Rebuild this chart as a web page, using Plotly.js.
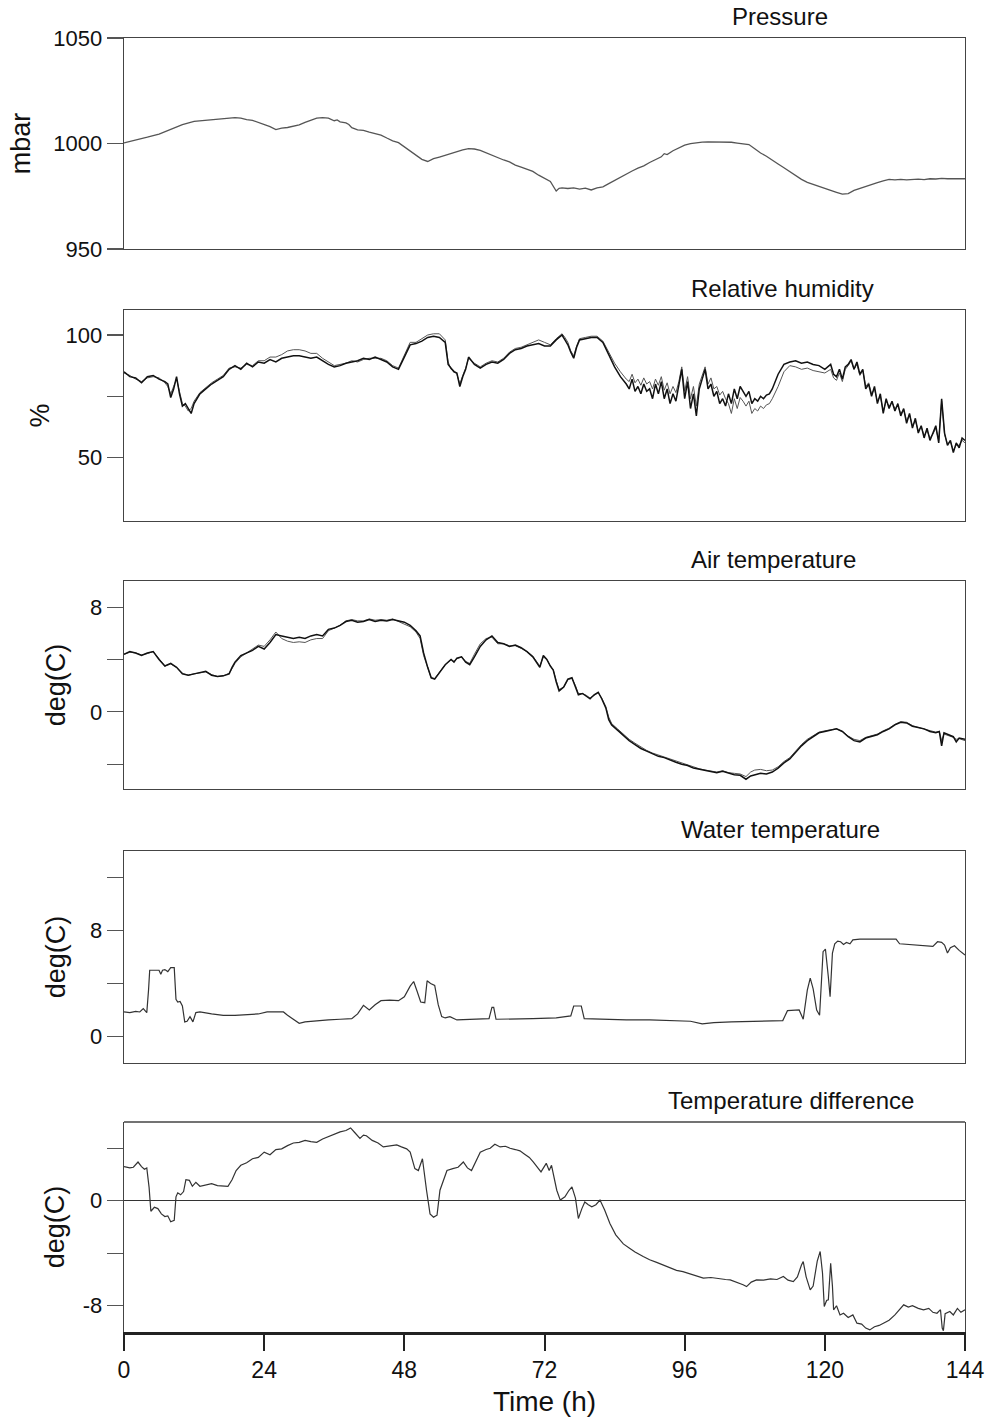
<!DOCTYPE html>
<html>
<head>
<meta charset="utf-8">
<script src="https://cdn.plot.ly/plotly-3.0.1.min.js"></script>
<style>html,body{margin:0;padding:0;background:#fff;}#chart{width:992px;height:1428px;}</style>
</head>
<body>
<div id="chart"></div>
<script>
// ---------------- DATA ----------------
const panelTitles = ["Pressure", "Relative humidity", "Air temperature", "Water temperature", "Temperature difference"];
const yTitles = ["mbar", "%", "deg(C)", "deg(C)", "deg(C)"];
const xTitle = "Time (h)";
const xTickVals = [0, 24, 48, 72, 96, 120, 144];

const y1TickVals = [950, 1000, 1050];
const y1TickText = ["950", "1000", "1050"];
const y2TickVals = [50, 75, 100];
const y2TickText = ["50", "", "100"];
const y3TickVals = [-4, 0, 4, 8];
const y3TickText = ["", "0", "", "8"];
const y4TickVals = [0, 4, 8, 12];
const y4TickText = ["0", "", "8", ""];
const y5TickVals = [-8, -4, 0, 4];
const y5TickText = ["-8", "", "0", ""];

// Pressure (mbar)
const pressT = [0,2,4,6,8,10,12,14,16,18,19,20,21,22,23,24,25,26,27,28,29,30,31,32,33,34,35,36,36.5,37,38,38.5,39,40,41,42,43,44,45,45.5,46,47,48,49,50,51,52,53,54,55,56,57,58,59,60,61,62,63,64,65,66,67,68,69,70,71,72,73,74,74.5,75,76,77,78,79,80,81,82,83,84,85,86,87,88,89,90,91,92,92.5,93,94,95,96,97,98,99,100,101,102,103,104,105,106,107,108,109,110,111,112,113,114,115,116,117,118,119,120,121,122,123,124,125,126,127,128,129,130,131,132,133,134,135,136,137,138,139,140,141,142,143,144];
const pressV = [1000.3,1001.5,1003,1004.5,1006.8,1009,1010.5,1011,1011.2,1012,1012.3,1012,1011.3,1011,1010,1009.2,1008,1006.6,1007.3,1007.6,1008.2,1008.8,1010,1011,1012,1012.3,1012,1010.8,1011.2,1010.3,1009.8,1009,1007.5,1006.5,1006.2,1005.4,1004.6,1004,1002.6,1001.8,1001.3,1000.4,998.4,996.5,994.5,992.5,991.5,992.8,993.6,994.5,995.2,996,997,997.6,997.4,996.8,995.6,994.5,993.5,992.2,991.3,989.8,988.8,987.8,986.8,985,983.5,982,977.5,978.8,979,978.7,979,978.4,978.9,978,979,979.5,981,982.5,984.2,985.5,987,988.3,989.4,991,992.2,993.7,995.2,994.8,996.6,998,999.2,1000,1000.5,1000.7,1000.8,1000.8,1000.8,1000.8,1000.6,1000.2,1000,999.5,997.5,995.5,994,992,990.3,988.5,986.6,984.8,983,981.6,980.6,979.6,978.9,977.8,976.9,976,976.3,977.8,978.8,979.8,980.6,981.5,982.3,983,982.8,983,982.8,983,983.1,982.9,983.3,983.2,983.5,983.3,983.5,983.4,983.3];

// Relative humidity (%), two sensors
const rhT = [0,1,2,3,4,5,6,7,7.5,8,8.5,9,9.5,10,10.5,11,11.5,12,13,14,15,16,17,18,19,20,21,22,23,24,25,26,27,28,29,30,31,32,33,34,35,36,37,38,39,40,41,42,43,44,45,46,47,48,49,50,51,52,53,54,55,55.5,56,56.5,57,57.5,58,58.5,59,60,61,62,63,64,65,66,67,68,69,70,71,72,73,74,75,75.5,76,76.5,77,77.5,78,79,80,81,82,83,84,85,86,86.5,87,87.5,88,88.5,89,89.5,90,90.5,91,91.5,92,92.5,93,93.5,94,94.5,95,95.5,96,96.5,97,97.5,98,98.5,99,99.5,100,100.5,101,101.5,102,102.5,103,103.5,104,104.5,105,105.5,106,106.5,107,107.5,108,108.5,109,109.5,110,110.5,111,112,113,114,115,116,117,118,119,120,121,121.5,122,122.5,123,123.5,124,124.5,125,125.5,126,126.5,127,127.5,128,128.5,129,129.5,130,130.5,131,131.5,132,132.5,133,133.5,134,134.5,135,135.5,136,136.5,137,137.5,138,138.5,139,139.5,140,140.5,141,141.5,142,142.5,143,143.5,144];
const rhA = [85,83,82.5,80.5,83,83.5,82,81,80,74.5,78,83,76,71,72,70,68,72,76,78,80,81.5,83,86,87.5,86,88.5,87,89,88.5,90,89,90.5,91,91.5,91.5,91,90.5,91,89.5,88,87,87.5,88.5,89,89.5,90.5,90,91,90,89,87,86,91,96,96.5,97.5,99,99.5,99,97,88,86.5,85,84.5,79,83,86,91,88,86.5,88,89,88.5,90,92.5,94,94.5,95.5,96,96.5,95.5,95.5,98,100,98,96,93,90.5,95,98,98.5,99,99,97,92,87,83,80,78,82,77,79,76,80,77,78,74,80,76,81,74,78,72,76,73,79,86,74,81,70,76,67,78,82,86,78,80,75,77,72,74,71,76,72,78,74,79,77,75,77,72,74,73,75,74,75.5,76,78,84,88,89,89.5,88.5,89,88,87.5,86,88,84,83,86,82,87,88,90,86,89,84,86,78,80,75,79,72,76,68,74,70,73,69,72,67,70,64,68,62,66,60,63,58,62,57,60,63,56,74,60,55,57,52,56,54,58,57];
const rhB = [84.5,83.5,82,81,82.5,83,82.5,80.5,79,76,79,82,77,72,71,69,70,73,76.5,78.5,80.5,82,83.5,86.5,87,86.5,88,87.5,89.5,89.5,91,91,92,93.5,94,94,93.5,92.5,92.5,90.5,89,87.5,88,88.5,89.5,89,90,90.5,90.5,90.5,89.5,87.5,86.5,91.5,97,97,98.5,100,100.5,100.5,98,89,86,85.5,84,80,83.5,86.5,90.5,88.5,87,88.5,89.5,89,90.5,93,94.5,95,96,97,98,97,96,98.5,100.5,99,97,93.5,91.5,95.5,98.5,99,99.5,99.5,97.5,93,88.5,85,82,81,84,80.5,82,79.5,82.5,80,81,78,82,79.5,83,77.5,80.5,76,79,76.5,81,87,77,83,74,79,71,80,84,87,80,82.5,78,79,75.5,77,74,72,68,74,70,74.5,73,71,73,68,70,69,71,70,71.5,72,74,79,85,87.5,87,86,86.5,85.5,85,84.5,86,82.5,81.5,84.5,81,86,87.5,89.5,86,88,83.5,85.5,79,80.5,76,78,73,75,69,73,71,72.5,70,71,68,69.5,65,67.5,63,65,61,62.5,59,61,58,59.5,62,57,73,59.5,55.5,56.5,53,55,55,57,56];

// Air temperature (deg C), two sensors
const airT = [0,1,2,3,4,5,6,7,8,9,10,11,12,13,14,15,16,17,18,18.5,19,20,21,22,23,24,25,26,27,28,29,30,31,32,33,34,35,36,37,38,39,40,41,42,43,44,45,46,47,48,49,50,50.7,51.3,52,52.6,53.2,54,55,56,56.5,57,57.8,58.5,59.2,60,61,62,63,64,65,66,67,68,69,70,70.6,71.2,71.8,72.4,73,73.5,74,74.5,75.3,76,76.7,77.3,77.8,78.5,79.2,79.8,80.5,81.2,81.8,82.5,83,83.5,84.5,85.5,86.5,87.5,88.5,89.5,90.5,91.5,92.5,93.5,94.5,95.5,96.5,97.5,98.5,99.5,100.5,101.5,102.5,103.5,104.5,105.5,106.5,107.3,108,109,110,111,112,113,114,115,116,117,118,119,120,121,122,123,124,125,126,127,128,129,130,131,132,133,134,135,136,137,138,139,139.6,140,140.4,141,142,142.5,143,144];
const airA = [4.4,4.6,4.5,4.3,4.5,4.6,4.0,3.5,3.7,3.4,2.9,2.8,2.9,3.0,3.1,2.8,2.7,2.75,2.9,3.4,3.8,4.3,4.5,4.7,5.0,4.8,5.3,5.9,5.8,5.7,5.6,5.7,5.6,5.8,5.9,5.8,6.3,6.4,6.6,6.9,7.0,6.85,6.9,7.05,6.9,7.0,6.95,7.05,6.95,6.85,6.6,6.2,5.8,4.5,3.4,2.6,2.5,3.0,3.6,4.0,3.8,4.1,4.2,3.8,3.6,4.2,5.0,5.5,5.8,5.3,5.2,5.0,5.1,4.9,4.6,4.2,3.8,3.4,4.3,4.0,3.5,3.2,2.3,1.6,1.9,2.5,2.6,1.9,1.3,1.4,1.2,1.0,1.3,1.5,1.0,0.3,-0.6,-1.0,-1.4,-1.8,-2.2,-2.5,-2.8,-3.0,-3.2,-3.4,-3.5,-3.7,-3.85,-4.0,-4.1,-4.3,-4.4,-4.5,-4.55,-4.65,-4.55,-4.7,-4.8,-4.85,-5.15,-4.9,-4.8,-4.7,-4.75,-4.6,-4.3,-3.9,-3.6,-3.1,-2.6,-2.2,-1.9,-1.6,-1.5,-1.4,-1.3,-1.5,-1.9,-2.2,-2.3,-2.0,-1.9,-1.75,-1.5,-1.3,-1.0,-0.8,-0.85,-1.1,-1.2,-1.3,-1.5,-1.6,-1.5,-2.6,-1.6,-1.7,-1.9,-2.3,-2.0,-2.1];
const airB = [4.4,4.55,4.5,4.35,4.45,4.6,4.05,3.5,3.65,3.4,2.95,2.8,2.9,3.0,3.05,2.85,2.7,2.75,2.95,3.3,3.7,4.2,4.5,4.8,5.1,5.0,5.5,6.1,5.6,5.4,5.3,5.35,5.3,5.5,5.6,5.6,6.2,6.4,6.6,6.95,7.05,6.95,6.95,7.1,7.0,7.05,7.0,7.1,6.9,6.75,6.5,6.1,5.6,4.3,3.3,2.6,2.55,3.0,3.6,4.0,3.85,4.05,4.2,3.85,3.7,4.4,5.2,5.6,5.7,5.2,5.2,5.05,5.05,4.85,4.6,4.25,3.85,3.5,4.2,4.0,3.5,3.2,2.4,1.7,1.9,2.45,2.55,2.0,1.4,1.4,1.25,1.05,1.25,1.45,1.05,0.4,-0.4,-0.9,-1.3,-1.7,-2.1,-2.4,-2.7,-2.95,-3.15,-3.3,-3.45,-3.6,-3.8,-3.95,-4.05,-4.25,-4.35,-4.45,-4.5,-4.6,-4.5,-4.65,-4.7,-4.75,-4.95,-4.6,-4.45,-4.4,-4.5,-4.45,-4.2,-3.8,-3.5,-3.0,-2.5,-2.1,-1.8,-1.55,-1.45,-1.35,-1.3,-1.5,-1.85,-2.1,-2.2,-1.95,-1.85,-1.7,-1.45,-1.25,-0.95,-0.75,-0.8,-1.05,-1.2,-1.3,-1.45,-1.55,-1.5,-2.2,-1.7,-1.8,-1.95,-2.1,-2.05,-2.2];

// Water temperature (deg C)
const waterT = [0,1,2,2.7,3.3,3.9,4.2,4.4,5,6,6.3,6.6,7,7.5,8,8.6,8.9,9.2,9.6,10,10.4,10.8,11.3,11.8,12.3,13,15,17,19,21,23,24.5,26,27.3,28,28.6,29.2,30,31,33,35,37,39,40,41,42,43,44,45.5,47,48,49,49.6,50.2,50.8,51.5,51.9,52.5,53.2,53.8,54.4,55,55.8,57,60,62.5,63,63.3,63.7,66,70,74,76.5,77,78.3,78.8,82,86,90,94,97,99,101,104,107,110,112.8,113.6,115.6,116.3,117,117.5,118,118.6,119.1,119.7,120.1,120.6,120.9,121.3,121.7,122.2,122.7,123.2,123.7,124.3,124.8,126,128,130,132.2,132.8,134,135.5,137,138.5,139.3,140,140.5,141,141.5,142.2,143,144];
const waterV = [1.85,1.8,1.9,1.85,2.1,1.8,3.5,5.0,5.0,5.0,4.7,5.0,5.05,4.9,5.2,5.2,2.8,2.6,2.65,2.3,1.1,1.15,1.5,1.1,1.8,1.85,1.7,1.6,1.6,1.65,1.7,1.85,1.85,1.85,1.6,1.4,1.2,1.0,1.1,1.2,1.25,1.3,1.35,1.7,2.35,2.0,2.4,2.7,2.75,2.7,3.0,3.8,4.15,3.4,2.6,2.55,4.2,4.0,3.85,2.4,1.5,1.4,1.5,1.25,1.3,1.35,2.2,2.2,1.3,1.3,1.35,1.4,1.55,2.3,2.3,1.35,1.3,1.25,1.25,1.2,1.15,0.95,1.05,1.1,1.15,1.2,1.2,1.95,2.0,1.3,3.5,4.4,3.6,2.0,1.6,6.4,6.6,4.5,3.0,6.3,7.0,7.2,7.15,6.95,7.1,7.0,7.3,7.35,7.35,7.35,7.35,7.0,6.95,6.9,6.85,6.8,7.15,7.1,6.9,6.3,6.7,6.85,6.5,6.15];

// Temperature difference (deg C)
const diffT = [0,1,1.6,2.4,3,3.5,3.9,4.3,4.6,5.2,5.8,6.4,7,7.5,8,8.6,8.9,9.2,9.7,10.2,10.6,11.2,11.7,12.3,13,14,15,16,17,17.8,18.5,19.2,20,21,22,23,24,25,26,27,28,29,30,31,32,33,34,35,36,37,38,38.8,39.5,40.4,41,41.5,42.5,43.5,44.4,45.5,46.7,47.5,48.4,49,49.8,50.4,51.1,51.8,52.4,53,53.6,54.1,55.3,56.3,57.2,58.1,58.8,59.5,60.3,61,62,62.7,63.5,64.4,65.3,66.1,67,67.8,68.6,69.4,70.1,70.7,71.4,72.3,72.8,73.2,73.7,74.1,74.7,75.5,76.2,76.7,77.3,77.8,78.4,78.9,79.5,80.1,80.8,81.5,82.3,83.2,84.2,85.5,86.5,87.5,88.9,90,91.2,92.3,93.5,94.6,95.7,96.8,98,99.2,100.5,101.8,103,103.8,105,106,106.6,107.4,108.3,109.5,110.7,111.8,112.9,113.7,114.6,115.3,116,116.3,116.8,117.5,118,118.7,119.2,119.6,119.9,120.3,120.6,121,121.3,121.5,122,122.6,123.2,124,124.8,125.5,126.3,127,127.7,128.5,129.3,130,131,132,132.8,133.5,134.3,135,136,136.9,137.8,138.5,139.2,139.8,140.1,140.3,140.6,141.4,142,142.7,143.3,144];
const diffV = [2.6,2.5,2.55,2.95,2.6,2.4,2.5,1.0,-0.8,-0.5,-0.6,-1.0,-1.2,-1.15,-1.6,-1.5,0.3,0.6,0.45,0.7,1.6,1.55,1.1,1.4,1.1,1.2,1.3,1.15,1.1,1.1,1.6,2.3,2.7,2.9,3.2,3.3,3.7,3.5,3.9,3.95,4.2,4.4,4.45,4.6,4.5,4.45,4.7,4.9,5.1,5.25,5.35,5.55,5.2,4.75,5.0,4.95,4.6,4.4,4.1,4.15,4.25,4.1,3.95,3.7,2.45,2.3,3.2,0.8,-1.0,-1.25,-1.1,0.8,2.3,2.45,2.55,2.95,2.5,2.3,3.0,3.7,3.9,4.0,4.3,4.1,4.15,4.0,3.9,3.8,3.55,3.3,2.95,2.6,2.2,2.85,2.3,2.7,1.6,0.8,0.05,0.3,0.8,1.06,0.2,-1.35,-0.6,-0.1,-0.3,-0.46,-0.3,0.05,-0.7,-1.73,-2.6,-3.29,-3.6,-3.9,-4.25,-4.5,-4.7,-4.89,-5.05,-5.3,-5.4,-5.55,-5.75,-5.9,-5.85,-5.95,-6.0,-6.03,-6.2,-6.4,-6.54,-6.2,-6.03,-6.05,-5.95,-6.0,-5.77,-6.05,-6.16,-5.8,-4.9,-4.64,-5.8,-6.79,-6.5,-4.6,-3.87,-5.5,-8.06,-7.6,-7.55,-4.77,-6.5,-8.31,-8.0,-8.7,-8.57,-8.9,-8.7,-9.33,-9.4,-9.7,-9.84,-9.6,-9.5,-9.33,-9.1,-8.7,-8.3,-7.93,-8.1,-8.0,-8.2,-8.31,-8.2,-8.5,-8.57,-8.3,-9.7,-9.9,-8.6,-8.44,-8.7,-8.2,-8.5,-8.31];

// ---------------- LAYOUT ----------------
const FONT = "Liberation Sans, Arial, Helvetica, sans-serif";
const domains = [[0.8369, 1.0], [0.6267, 0.7898], [0.4196, 0.5804], [0.2079, 0.3717], [0.0, 0.1623]];
const yRanges = [[950, 1050], [24.1, 110.2], [-5.9, 10], [-2, 14], [-10, 6]];
const yTickVals = [y1TickVals, y2TickVals, y3TickVals, y4TickVals, y5TickVals];
const yTickText = [y1TickText, y2TickText, y3TickText, y4TickText, y5TickText];
const yStandoff = [14, 8, 16, 16, 10];
const titleX = [0.780, 0.783, 0.772, 0.781, 0.793];
const TXT = "#111";

const traces = [
  {x: pressT, y: pressV, xaxis: "x", yaxis: "y", line: {color: "#555", width: 1.3}},
  {x: rhT, y: rhB, xaxis: "x2", yaxis: "y2", line: {color: "#555", width: 1}},
  {x: rhT, y: rhA, xaxis: "x2", yaxis: "y2", line: {color: "#111", width: 1.5}},
  {x: airT, y: airB, xaxis: "x3", yaxis: "y3", line: {color: "#555", width: 1}},
  {x: airT, y: airA, xaxis: "x3", yaxis: "y3", line: {color: "#111", width: 1.5}},
  {x: waterT, y: waterV, xaxis: "x4", yaxis: "y4", line: {color: "#333", width: 1.2}},
  {x: diffT, y: diffV, xaxis: "x5", yaxis: "y5", line: {color: "#333", width: 1.2}}
].map(t => Object.assign({type: "scatter", mode: "lines", hoverinfo: "skip", showlegend: false}, t));

const layout = {
  width: 992, height: 1428,
  margin: {l: 124, r: 27, t: 38, b: 96},
  paper_bgcolor: "#fff", plot_bgcolor: "#fff",
  font: {family: FONT, color: TXT, size: 22},
  showlegend: false,
  annotations: [],
  shapes: []
};

for (let i = 0; i < 5; i++) {
  const n = i + 1;
  const xa = "xaxis" + (n === 1 ? "" : n);
  const ya = "yaxis" + (n === 1 ? "" : n);
  const yid = "y" + (n === 1 ? "" : n);
  const xid = "x" + (n === 1 ? "" : n);
  const bottom = (n === 5);
  layout[xa] = {
    domain: [0, 1], anchor: yid, range: [0, 144],
    showgrid: false, zeroline: false,
    showline: true, linecolor: bottom ? "#222" : "#444", linewidth: bottom ? 2.5 : 1.4,
    mirror: !bottom,
    ticks: bottom ? "outside" : "", ticklen: 16, tickwidth: 2, tickcolor: "#222",
    tickvals: xTickVals, ticktext: xTickVals.map(String),
    showticklabels: bottom,
    tickfont: {family: FONT, size: 23, color: TXT},
    automargin: false
  };
  if (bottom) {
    layout[xa].title = {text: xTitle, font: {family: FONT, size: 28, color: TXT}, standoff: 10};
  }
  layout[ya] = {
    domain: domains[i], anchor: xid, range: yRanges[i],
    showgrid: false,
    zeroline: bottom, zerolinecolor: "#333", zerolinewidth: 1.3,
    showline: true, linecolor: "#444", linewidth: 1.4, mirror: true,
    ticks: "outside", ticklen: 16, tickwidth: 1.2, tickcolor: "#555",
    tickvals: yTickVals[i], ticktext: yTickText[i],
    tickfont: {family: FONT, size: 22, color: TXT},
    title: {text: yTitles[i], font: {family: FONT, size: 27, color: TXT}, standoff: yStandoff[i]},
    automargin: false
  };
  layout.annotations.push({
    text: panelTitles[i], xref: "paper", yref: "paper",
    x: titleX[i], y: domains[i][1], xanchor: "center", yanchor: "bottom", yshift: 6,
    showarrow: false, font: {family: FONT, size: 24, color: TXT}
  });
}
// thin top frame line for the bottom panel (bottom axis line is heavier)
layout.shapes.push({type: "line", xref: "paper", yref: "y5 domain", x0: 0, x1: 1, y0: 1, y1: 1,
  line: {color: "#444", width: 1.4}});

Plotly.newPlot("chart", traces, layout, {displayModeBar: false, staticPlot: true});
</script>
</body>
</html>
